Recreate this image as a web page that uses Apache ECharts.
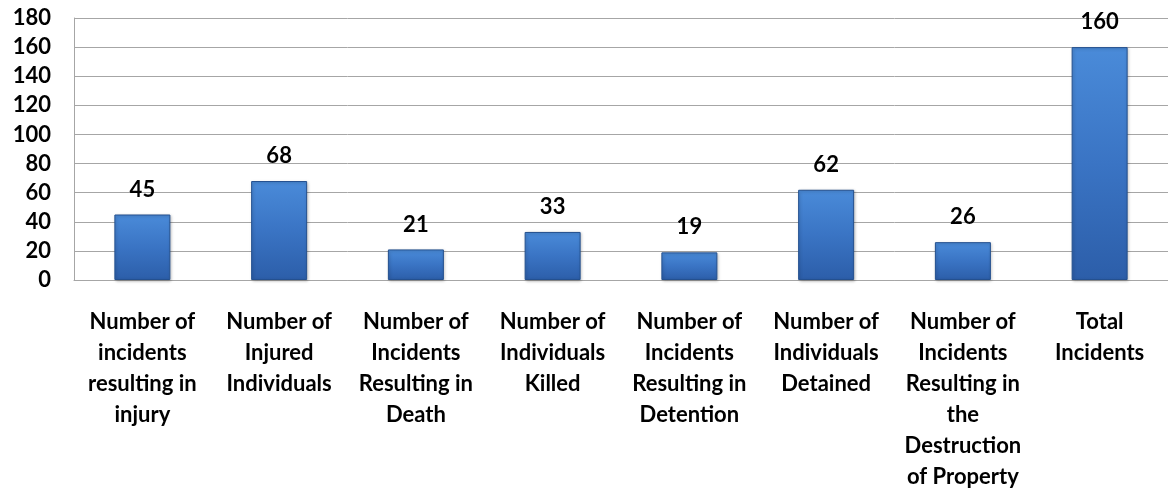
<!DOCTYPE html>
<html>
<head>
<meta charset="utf-8">
<script src="https://cdn.jsdelivr.net/npm/echarts@6/dist/echarts.min.js"></script>
<style>
html,body{margin:0;padding:0;background:#fff;}
#chart{width:1168px;height:492px;}
</style>
</head>
<body>
<div id="chart"></div>
<script>
const categories = [
  "Number of\nincidents\nresulting in\ninjury",
  "Number of\nInjured\nIndividuals",
  "Number of\nIncidents\nResulting in\nDeath",
  "Number of\nIndividuals\nKilled",
  "Number of\nIncidents\nResulting in\nDetention",
  "Number of\nIndividuals\nDetained",
  "Number of\nIncidents\nResulting in\nthe\nDestruction\nof Property",
  "Total\nIncidents"
];
const values = [45, 68, 21, 33, 19, 62, 26, 160];
const yTicks = [0, 20, 40, 60, 80, 100, 120, 140, 160, 180];

const chart = echarts.init(document.getElementById('chart'), null, {renderer: 'canvas'});
const font = 'Lato, "Open Sans", sans-serif';
chart.setOption({
  animation: false,
  grid: {left: 74, right: 0, top: 18, bottom: 212},
  xAxis: {
    type: 'category',
    data: categories,
    axisLine: {show: true, lineStyle: {color: '#a6a6a6', width: 1}},
    axisTick: {show: false},
    axisLabel: {
      interval: 0,
      margin: 26,
      color: '#000',
      fontFamily: font,
      fontWeight: 'bold',
      fontSize: 22,
      lineHeight: 31
    }
  },
  yAxis: {
    type: 'value',
    min: yTicks[0],
    max: yTicks[yTicks.length - 1],
    interval: 20,
    axisLine: {show: true, lineStyle: {color: '#a6a6a6', width: 1}},
    axisTick: {show: false},
    splitLine: {show: true, lineStyle: {color: '#a6a6a6', width: 1}},
    axisLabel: {
      margin: 23,
      color: '#000',
      fontFamily: font,
      fontWeight: 'bold',
      fontSize: 22
    }
  },
  series: [{
    type: 'bar',
    data: values,
    barWidth: 56,
    itemStyle: {
      color: new echarts.graphic.LinearGradient(0, 0, 0, 1, [
        {offset: 0, color: '#4a8bd9'},
        {offset: 0.5, color: '#3a74c4'},
        {offset: 1, color: '#2c5ea9'}
      ]),
      borderColor: '#24508f',
      borderWidth: 1,
      shadowColor: 'rgba(0,0,0,0.25)',
      shadowBlur: 3,
      shadowOffsetX: 1,
      shadowOffsetY: 1
    },
    label: {
      show: true,
      position: 'top',
      distance: 14,
      color: '#000',
      fontFamily: font,
      fontWeight: 'bold',
      fontSize: 22
    }
  }]
});
</script>
</body>
</html>
